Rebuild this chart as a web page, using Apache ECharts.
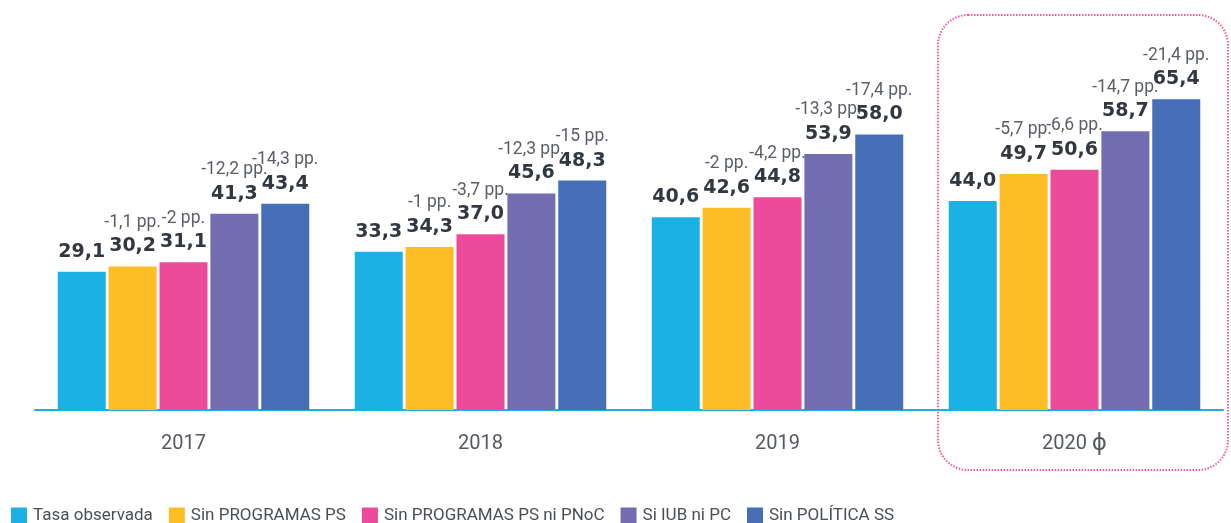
<!DOCTYPE html>
<html>
<head>
<meta charset="utf-8">
<script src="https://cdn.jsdelivr.net/npm/echarts@6/dist/echarts.min.js"></script>
<style>
  html, body { margin: 0; padding: 0; background: #fff; }
  #chart { width: 1231px; height: 523px; }
</style>
</head>
<body>
<div id="chart"></div>
<script>
var years = ['2017', '2018', '2019', '2020 ɸ'];
var seriesNames = ['Tasa observada', 'Sin PROGRAMAS PS', 'Sin PROGRAMAS PS ni PNoC', 'Si IUB ni PC', 'Sin POLÍTICA SS'];
var colors = ['#1cb1e5', '#fdbd24', '#ec4a9a', '#736eb2', '#476fb7'];

var tasaObservada = [29.1, 33.3, 40.6, 44.0];
var sinProgramas = [30.2, 34.3, 42.6, 49.7];
var sinProgramasPnoc = [31.1, 37.0, 44.8, 50.6];
var siIubPc = [41.3, 45.6, 53.9, 58.7];
var sinPolitica = [43.4, 48.3, 58.0, 65.4];

var ppSinProgramas = ['-1,1 pp.', '-1 pp.', '-2 pp.', '-5,7 pp.'];
var ppSinProgramasPnoc = ['-2 pp.', '-3,7 pp.', '-4,2 pp.', '-6,6 pp.'];
var ppSiIubPc = ['-12,2 pp.', '-12,3 pp.', '-13,3 pp.', '-14,7 pp.'];
var ppSinPolitica = ['-14,3 pp.', '-15 pp.', '-17,4 pp.', '-21,4 pp.'];

var values = [tasaObservada, sinProgramas, sinProgramasPnoc, siIubPc, sinPolitica];
var ppLabels = [null, ppSinProgramas, ppSinProgramasPnoc, ppSiIubPc, ppSinPolitica];

function fmt(v) {
  return v.toFixed(1).replace('.', ',');
}

var chart = echarts.init(document.getElementById('chart'));

var series = values.map(function (data, i) {
  var pp = ppLabels[i];
  return {
    name: seriesNames[i],
    type: 'bar',
    data: data,
    barWidth: 48,
    barGap: '6%',
    itemStyle: { color: colors[i] },
    label: {
      show: true,
      position: 'top',
      distance: 9,
      formatter: function (p) {
        var txt = '{v|' + fmt(p.value) + '}';
        if (pp) txt = '{p|' + pp[p.dataIndex] + '}\n' + txt;
        return txt;
      },
      rich: {
        v: { fontFamily: 'DejaVu Sans', fontWeight: 'bold', fontSize: 19, color: '#333840', lineHeight: 22 },
        p: { fontFamily: 'Roboto', fontSize: 17.5, color: '#5a5f66', lineHeight: 26 }
      }
    }
  };
});

chart.setOption({
  animation: false,
  textStyle: { fontFamily: 'Roboto' },
  grid: { left: 35, right: 8, top: 30, bottom: 113 },
  legend: {
    left: 6,
    bottom: -6,
    icon: 'rect',
    itemWidth: 16,
    itemHeight: 16,
    itemGap: 16,
    textStyle: { fontFamily: 'Roboto', fontSize: 17, color: '#4a4f55', padding: [0, 0, 0, 1] },
    data: seriesNames
  },
  xAxis: {
    type: 'category',
    data: years,
    axisLine: { lineStyle: { color: '#1cb1e5', width: 2 } },
    axisTick: { show: false },
    axisLabel: {
      fontFamily: 'Roboto', fontSize: 20, color: '#555a60', margin: 22, lineHeight: 24,
      formatter: function (v) { return v.replace('ɸ', '{phi|ɸ}'); },
      rich: { phi: { fontFamily: 'DejaVu Sans', fontSize: 23, lineHeight: 24, color: '#555a60' } }
    }
  },
  yAxis: {
    type: 'value',
    min: 0,
    max: 80,
    show: false,
    splitLine: { show: false }
  },
  graphic: [{
    type: 'rect',
    shape: { x: 938, y: 15, width: 290, height: 455, r: 30 },
    style: { fill: 'none', stroke: '#ec5aa2', lineWidth: 2, lineDash: [1.5, 1.5] },
    silent: true
  }],
  series: series
});
</script>
</body>
</html>
